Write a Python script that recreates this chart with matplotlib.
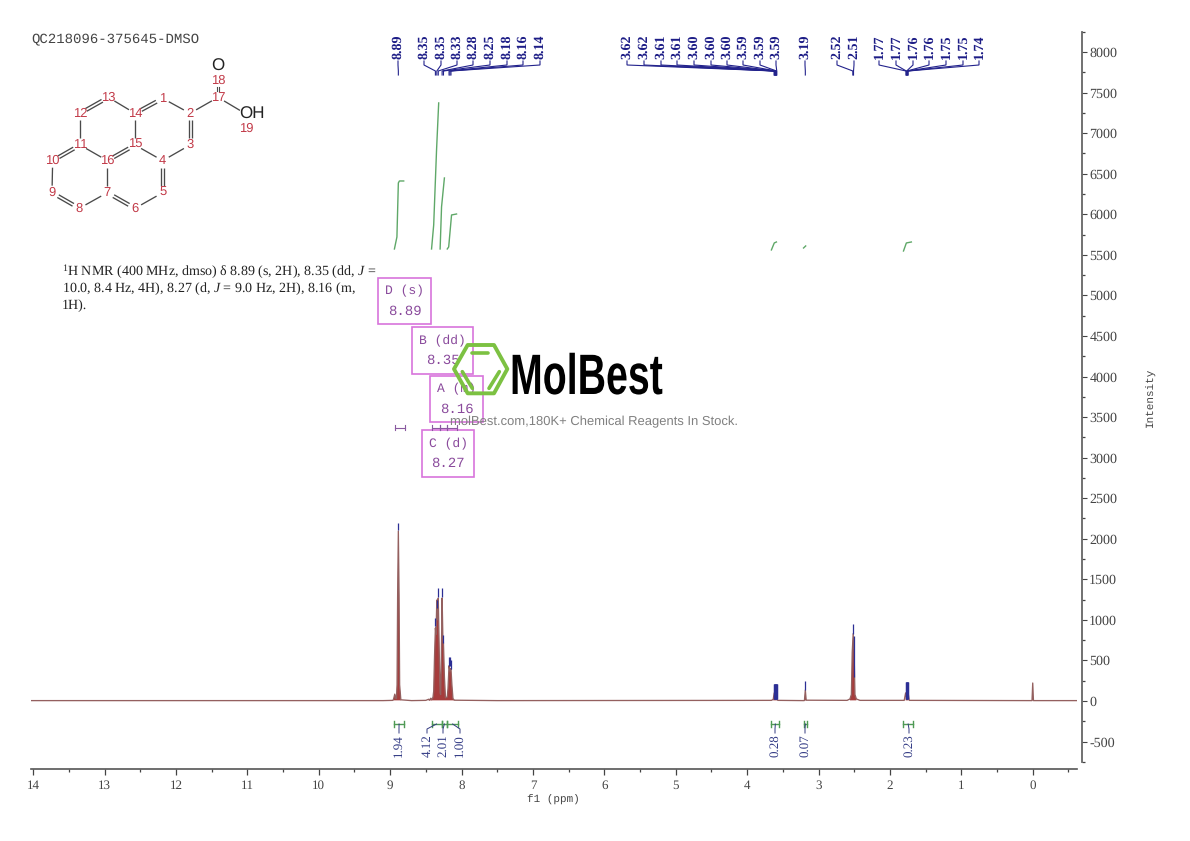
import matplotlib
matplotlib.use("Agg")
import matplotlib.pyplot as plt
from matplotlib.patches import Rectangle, Polygon
from matplotlib.patheffects import AbstractPathEffect
from matplotlib.transforms import Affine2D

plt.rcParams['axes.unicode_minus'] = False
plt.rcParams['text.hinting'] = 'no_hinting'
plt.rcParams['text.hinting_factor'] = 1
plt.rcParams['mathtext.fontset'] = 'custom'
plt.rcParams['mathtext.rm'] = 'Liberation Serif'
plt.rcParams['mathtext.it'] = 'Liberation Serif:italic'
SERIF = ['Liberation Serif', 'DejaVu Serif']
MONO = ['Liberation Mono', 'DejaVu Sans Mono']
SANS = ['Liberation Sans', 'DejaVu Sans']

# ---------- data ----------
spectrum_ppm = [14.03, 9.10, 8.96, 8.95, 8.935, 8.92, 8.912, 8.903, 8.895, 8.885, 8.875, 8.867, 8.85, 8.70,
                8.50, 8.46, 8.45, 8.43, 8.42, 8.40, 8.39, 8.378, 8.366, 8.358, 8.346, 8.335, 8.326, 8.312,
                8.30, 8.293, 8.285, 8.272, 8.262, 8.253, 8.24, 8.225, 8.20, 8.19, 8.175, 8.162, 8.148, 8.135,
                8.12, 8.10, 7.5, 3.66, 3.635, 3.62, 3.61, 3.605, 3.60, 3.595, 3.585, 3.57, 3.20, 3.197,
                3.185, 3.173, 2.60, 2.56, 2.54, 2.528, 2.515, 2.502, 2.49, 2.47, 2.42, 1.80, 1.78, 1.77,
                1.76, 1.755, 1.745, 1.73, 0.01, 0.0, -0.01, -0.62]
spectrum_int = [5, 5, 8, 30, 85, 35, 30, 200, 1300, 2096, 1300, 200, 15, 5,
                8, 22, 10, 35, 15, 45, 120, 560, 900, 820, 1245, 1000, 1270, 600,
                100, 80, 400, 1270, 800, 710, 300, 40, 50, 150, 435, 370, 400, 200,
                30, 10, 5, 8, 20, 100, 50, 110, 50, 100, 20, 8, 5, 10,
                135, 10, 8, 25, 80, 600, 830, 600, 80, 25, 8, 8, 100, 50,
                100, 50, 100, 8, 5, 222, 5, 5]

peak_labels = ['8.89', '8.35', '8.35', '8.33', '8.28', '8.25', '8.18', '8.16', '8.14',
               '3.62', '3.62', '3.61', '3.61', '3.60', '3.60', '3.60', '3.59', '3.59', '3.59',
               '3.19', '2.52', '2.51',
               '1.77', '1.77', '1.76', '1.76', '1.75', '1.75', '1.74']
peak_ppm = [8.885, 8.366, 8.346, 8.326, 8.272, 8.253, 8.175, 8.162, 8.148,
            3.622, 3.618, 3.612, 3.608, 3.604, 3.600, 3.597, 3.592, 3.588, 3.585,
            3.185, 2.52, 2.51,
            1.775, 1.771, 1.766, 1.762, 1.755, 1.750, 1.745]
peak_tick_low = [2105, 925, 1150, 1280, 1280, 715, 435, 435, 400,
                 20, 20, 20, 20, 20, 20, 20, 20, 20, 20,
                 135, 830, 300,
                 20, 20, 20, 20, 20, 20, 20]
peak_tick_len = [90, 100, 100, 110, 110, 100, 105, 105, 105,
                 190, 190, 190, 190, 190, 190, 190, 190, 190, 190,
                 110, 120, 500,
                 215, 215, 215, 215, 215, 215, 215]

integral_labels = ['1.94', '4.12', '2.01', '1.00', '0.28', '0.07', '0.23']
integral_start = [8.94, 8.42, 8.28, 8.20, 3.66, 3.21, 1.81]
integral_end = [8.81, 8.28, 8.20, 8.05, 3.55, 3.16, 1.68]

curve1_ppm, curve1_val = [8.94, 8.905, 8.885, 8.87, 8.81], [5572, 5720, 6386, 6410, 6410]
curve2_ppm, curve2_val = [8.42, 8.39, 8.35, 8.32], [5572, 5868, 6792, 7372]
curve3_ppm, curve3_val = [8.30, 8.28, 8.24], [5572, 6090, 6447]
curve4_ppm, curve4_val = [8.20, 8.18, 8.14, 8.07], [5572, 5597, 5991, 6003]
curve5_ppm, curve5_val = [3.66, 3.62, 3.59], [5560, 5646, 5658]
curve6_ppm, curve6_val = [3.21, 3.18], [5584, 5609]
curve7_ppm, curve7_val = [1.81, 1.77, 1.70], [5547, 5646, 5658]

x_major = list(range(0, 15))
x_minor = [i + 0.5 for i in range(-1, 14)]
y_major = list(range(-500, 8001, 500))
y_minor = list(range(-750, 8251, 500))

box_titles = ['D (s)', 'B (dd)', 'A (m)', 'C (d)']
box_values = ['8.89', '8.35', '8.16', '8.27']

# ---------- layout ----------
W, H = 1190, 841
fig = plt.figure(figsize=(W / 100, H / 100), dpi=100, facecolor='white')
L, R, T, B = 31, 1077, 30, 769
ax = fig.add_axes([L / W, 1 - B / H, (R - L) / W, (B - T) / H])
ax.set_xlim(14.03, -0.62)
ax.set_ylim(-838, 8271)
ax.patch.set_alpha(0)
for s in ('left', 'top'):
    ax.spines[s].set_visible(False)
ax.spines['bottom'].set_color('#555555')
ax.spines['bottom'].set_linewidth(1.2)
ax.spines['right'].set_color('#666666')
ax.spines['right'].set_linewidth(1.3)
ax.spines['right'].set_position(('outward', 3.6))
ax.spines['right'].set_bounds(-750, 8250)
ax.yaxis.tick_right()
ax.set_xticks(x_major)
ax.set_xticks(x_minor, minor=True)
ax.set_yticks(y_major)
ax.set_yticks(y_minor, minor=True)
ax.tick_params(axis='x', which='major', length=4.3, width=0.9, color='#444444', pad=10.2, labelsize=9.7, labelcolor='#444444')
ax.tick_params(axis='x', which='minor', length=2.2, width=0.9, color='#444444')
ax.tick_params(axis='y', which='major', length=3.6, width=0.8, color='#444444', pad=1.6, labelsize=9.9, labelcolor='#444444')
ax.tick_params(axis='y', which='minor', length=2.2, width=0.9, color='#444444')
for t in ax.get_xticklabels():
    t.set_fontfamily(SERIF)
    t.set_verticalalignment('baseline')
for t in ax.get_yticklabels():
    t.set_fontfamily(SERIF)

# spectrum, peak ticks, integrals
ax.fill_between(spectrum_ppm, 8, spectrum_int, where=[v > 8 for v in spectrum_int], color='#a63c3c', lw=0, zorder=2)
ax.plot(spectrum_ppm, spectrum_int, color='#94605f', lw=0.95, zorder=2)
ax.vlines(peak_ppm, peak_tick_low, [a + b for a, b in zip(peak_tick_low, peak_tick_len)],
          color='#2c2f95', lw=0.9, zorder=3)
for cx, cy in [(curve1_ppm, curve1_val), (curve2_ppm, curve2_val), (curve3_ppm, curve3_val),
               (curve4_ppm, curve4_val), (curve5_ppm, curve5_val), (curve6_ppm, curve6_val),
               (curve7_ppm, curve7_val)]:
    ax.plot(cx, cy, color='#5fa868', lw=1.0, zorder=2)

# full-figure pixel overlay
ov = fig.add_axes([0, 0, 1, 1])
ov.set_xlim(0, W)
ov.set_ylim(H, 0)
ov.axis('off')
ov.patch.set_alpha(0)


def ppm_px(p):
    return L + (14.03 - p) / (14.03 + 0.62) * (R - L)


# peak labels and connectors
label_x = [398, 424, 441, 457, 473, 490, 507, 523, 540,
           627, 644, 661, 677, 694, 711, 727, 743, 760, 776,
           805, 837, 854,
           879, 896, 913, 929, 946, 963, 979]
NAVY = '#1c1c86'
for txt, p, lx in zip(peak_labels, peak_ppm, label_x):
    ov.text(lx, 46.5, txt, rotation=90, ha='center', va='center', fontsize=10,
            family=SERIF, weight='bold', color=NAVY)
    px = ppm_px(p)
    ov.plot([lx, lx, px, px], [61, 65, 71, 75], color='#23238c', lw=0.8, solid_joinstyle='miter')

# integral brackets and labels
int_label_x = [399, 427, 443, 460, 775, 805, 909]
for txt, a, b, lx in zip(integral_labels, integral_start, integral_end, int_label_x):
    x0, x1 = ppm_px(a), ppm_px(b)
    ov.plot([x0, x1], [724, 724], color='#4f9a55', lw=1.0)
    ov.plot([x0, x0], [721, 727], color='#4f9a55', lw=1.0)
    ov.plot([x1, x1], [721, 727], color='#4f9a55', lw=1.0)
    ov.plot([(x0 + x1) / 2, lx, lx], [724, 729, 733], color='#333a80', lw=0.7)
    ov.text(lx, 746, txt, rotation=90, ha='center', va='center', fontsize=9.6,
            family=SERIF, color='#343c86')

# small range marks
for x0, x1 in [(395, 405), (432, 440), (440, 447), (447, 457)]:
    ov.plot([x0, x1], [427.5, 427.5], color='#8a5aa0', lw=0.8)
    ov.plot([x0, x0], [425, 430], color='#8a5aa0', lw=0.8)
    ov.plot([x1, x1], [425, 430], color='#8a5aa0', lw=0.8)

# axis titles and headers
ov.text(553, 800, 'f1 (ppm)', ha='center', va='center', fontsize=7.6, family=MONO, color='#444444')
ov.text(1151, 397, 'Intensity', rotation=90, ha='center', va='center', fontsize=8.2, family=MONO, color='#444444')
ov.text(31, 40, 'QC218096-375645-DMSO', ha='left', va='center', fontsize=10, family=MONO, color='#444444')

nmr_lines = ['$^{1}$H NMR (400 MHz, dmso) \u03b4 8.89 (s, 2H), 8.35 (dd, $J$ =',
             '10.0, 8.4 Hz, 4H), 8.27 (d, $J$ = 9.0 Hz, 2H), 8.16 (m,',
             '1H).']
for y, line in zip([272, 289, 306], nmr_lines):
    ov.text(62, y, line, ha='left', va='center', fontsize=10, family=SERIF, color='#222222')

# assignment boxes
box_px = [(378, 278, 431, 324), (412, 327, 473, 374), (430, 376, 483, 422), (422, 430, 474, 477)]
for (x0, y0, x1, y1), a, b in zip(box_px, box_titles, box_values):
    ov.add_patch(Rectangle((x0, y0), x1 - x0, y1 - y0, fill=False, ec='#d874dc', lw=1.2))
    c, m = (x0 + x1) / 2, (y0 + y1) / 2
    ov.text(c, m - 10, a, ha='center', va='center', fontsize=9.6, family=MONO, color='#8a4a9c')
    ov.text(c, m + 10, b, ha='center', va='center', fontsize=10.2, family=MONO, color='#8a4a9c')

# molecule (drawn in pixel space)
atoms = {1: (428, 235), 2: (510, 280), 3: (510, 375), 4: (428, 422), 5: (428, 518), 6: (345, 565),
         7: (262, 518), 8: (178, 565), 9: (96, 518), 10: (98, 422), 11: (180, 375), 12: (180, 280),
         13: (265, 232), 14: (345, 280), 15: (345, 375), 16: (262, 422), 17: (594, 232), 18: (594, 183),
         19: (678, 282)}
atoms = {k: (v[0] / 3 + 20, v[1] / 3 + 20) for k, v in atoms.items()}
single = [(1, 2), (3, 4), (5, 6), (7, 8), (9, 10), (11, 12), (13, 14), (14, 15), (15, 4), (16, 11), (16, 7), (2, 17), (17, 19)]
double = [(1, 14), (2, 3), (4, 5), (6, 7), (8, 9), (10, 11), (12, 13), (15, 16)]
GR = '#4a4a4a'


def bond(a, b, off=0.0):
    (x0, y0), (x1, y1) = atoms[a], atoms[b]
    dx, dy = x1 - x0, y1 - y0
    d = (dx * dx + dy * dy) ** 0.5
    ux, uy = dx / d, dy / d
    s = 7.0
    ov.plot([x0 + ux * s - uy * off, x1 - ux * s - uy * off],
            [y0 + uy * s + ux * off, y1 - uy * s + ux * off], color=GR, lw=0.95, solid_capstyle='butt')


for a, b in single:
    bond(a, b)
for a, b in double:
    bond(a, b, 1.5)
    bond(a, b, -1.5)
for k, (x, y) in atoms.items():
    if k == 19:
        continue
    ov.text(x, y, str(k), ha='center', va='center', fontsize=9, family=SANS, color='#c23a48')
ov.text(20 + 678 / 3, 20 + 325 / 3, '19', ha='center', va='center', fontsize=9, family=SANS, color='#c23a48')
for dx in (-1.2, 1.2):
    ov.plot([218 + dx, 218 + dx], [87, 91], color=GR, lw=0.8)
ov.text(218, 66, 'O', ha='center', va='center', fontsize=12.5, family=SANS, color='#222222')
ov.text(252, 114, 'OH', ha='center', va='center', fontsize=12.5, family=SANS, color='#222222')


class SqueezeX(AbstractPathEffect):
    """Draw a text narrower by scaling its glyph outlines horizontally."""

    def __init__(self, sx):
        super().__init__()
        self.sx = sx

    def draw_path(self, renderer, gc, tpath, affine, rgbFace=None):
        renderer.draw_path(gc, tpath, Affine2D().scale(self.sx, 1) + affine, rgbFace)


# watermark
hex_x = [252, 293, 372, 412, 372, 293]
hex_y = [327, 255, 255, 327, 400, 400]
GREEN = '#7cc142'
ov.add_patch(Polygon([(x / 3 + 370, y / 3 + 260) for x, y in zip(hex_x, hex_y)], closed=True,
                     fill=False, ec=GREEN, lw=2.8, joinstyle='round', zorder=6))
for (a, b), (c, d) in [((305, 278), (355, 278)), ((388, 335), (357, 385)), ((277, 335), (307, 385))]:
    ov.plot([a / 3 + 370, c / 3 + 370], [b / 3 + 260, d / 3 + 260], color=GREEN, lw=2.6,
            solid_capstyle='round', zorder=6)
ov.text(510, 394, 'MolBest', ha='left', va='baseline', fontsize=41, weight='bold',
        family=SANS, color='black', zorder=6, path_effects=[SqueezeX(0.69)])
ov.text(594, 422, 'molBest.com,180K+ Chemical Reagents In Stock.', ha='center', va='center', fontsize=9.3,
        family=SANS, color='#808080', zorder=7)

fig.savefig('out.png', dpi=100)
